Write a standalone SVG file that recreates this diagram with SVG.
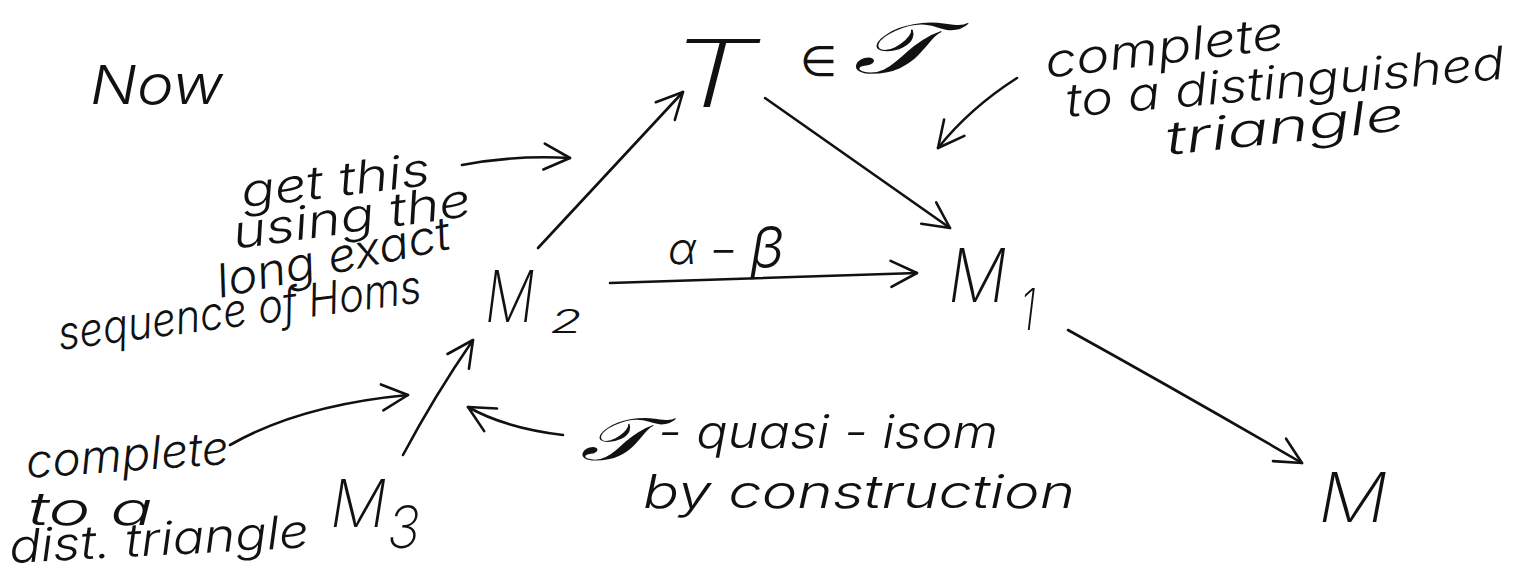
<svg xmlns="http://www.w3.org/2000/svg" width="1513" height="577" viewBox="0 0 1513 577">
  <style>
    .hand { font-family: "Inter", "Open Sans", "Lato", "DejaVu Sans", sans-serif; font-weight: 300; font-style: italic; fill: #111; }
    .big { font-weight: 200; }
    .note { font-size: 46px; }
    .sym { font-family: "DejaVu Serif", "Liberation Serif", serif; font-style: italic; fill: #111; }
    .edge { fill: none; stroke: #111; stroke-width: 2.6; stroke-linecap: round; stroke-linejoin: round; }
  </style>
  <defs>
    <!-- open, hand-drawn style arrowhead -->
    <marker id="head" viewBox="-32 -16 36 32" refX="0" refY="0" markerWidth="36" markerHeight="32" markerUnits="userSpaceOnUse" orient="auto">
      <path d="M-26,-13 L0,0 L-26,13" fill="none" stroke="#111" stroke-width="2.6" stroke-linecap="round" stroke-linejoin="round"/>
    </marker>
  </defs>

  <rect width="1513" height="577" fill="#fff"/>

  <!-- heading -->
  <text class="hand" x="90" y="104" font-size="54" textLength="133" lengthAdjust="spacingAndGlyphs">Now</text>

  <!-- nodes -->
  <g id="node-T">
    <text class="hand big" x="668" y="107" font-size="94" font-weight="100" textLength="90" lengthAdjust="spacingAndGlyphs">T</text>
    <text class="hand" x="800" y="76" font-size="42" textLength="37" lengthAdjust="spacingAndGlyphs">∈</text>
    <text class="sym" x="853" y="73" font-size="72" textLength="84" lengthAdjust="spacingAndGlyphs">𝒯</text>
  </g>
  <g id="node-M2">
    <text class="hand big" x="485" y="322" font-size="72" textLength="50" lengthAdjust="spacingAndGlyphs">M</text>
    <text class="hand" x="550" y="333" font-size="32" textLength="32" lengthAdjust="spacingAndGlyphs">2</text>
  </g>
  <g id="node-M1">
    <text class="hand big" x="948" y="302" font-size="74" textLength="59" lengthAdjust="spacingAndGlyphs">M</text>
    <text class="hand big" x="1020" y="330" font-size="58" textLength="16" lengthAdjust="spacingAndGlyphs">1</text>
  </g>
  <g id="node-M3">
    <text class="hand big" x="330" y="527" font-size="66" textLength="57" lengthAdjust="spacingAndGlyphs">M</text>
    <text class="hand big" x="387" y="548" font-size="58" textLength="33" lengthAdjust="spacingAndGlyphs">3</text>
  </g>
  <g id="node-M">
    <text class="hand big" x="1318" y="522" font-size="68" textLength="70" lengthAdjust="spacingAndGlyphs">M</text>
  </g>

  <!-- connectors -->
  <g id="connectors">
    <path class="edge" d="M538,248 L683,92" marker-end="url(#head)"/>
    <path class="edge" d="M765,98 Q860,165 950,228" marker-end="url(#head)"/>
    <path class="edge" d="M610,283 L917,273" marker-end="url(#head)"/>
    <path class="edge" d="M1068,330 Q1180,392 1302,463" marker-end="url(#head)"/>
    <path class="edge" d="M403,455 Q435,395 473,340" marker-end="url(#head)"/>
    <path class="edge" d="M563,435 Q505,428 468,407" marker-end="url(#head)"/>
    <path class="edge" d="M462,165 Q515,155 570,158" marker-end="url(#head)"/>
    <path class="edge" d="M230,445 Q300,405 408,395" marker-end="url(#head)"/>
    <path class="edge" d="M1017,78 Q970,108 938,148" marker-end="url(#head)"/>
  </g>

  <!-- edge label -->
  <text class="hand" x="668" y="264" font-size="44">α − <tspan font-size="58" dy="4">β</tspan></text>

  <!-- remarks -->
  <g id="note-top-right" class="hand note">
    <text x="1047" y="78" textLength="240" lengthAdjust="spacingAndGlyphs" transform="rotate(-7 1047 78)">complete</text>
    <text x="1067" y="117" textLength="440" lengthAdjust="spacingAndGlyphs" transform="rotate(-5 1067 117)">to a distinguished</text>
    <text x="1167" y="155" textLength="240" lengthAdjust="spacingAndGlyphs" transform="rotate(-6 1167 155)">triangle</text>
  </g>
  <g id="note-left" class="hand note">
    <text x="243" y="208" textLength="190" lengthAdjust="spacingAndGlyphs" transform="rotate(-7 243 208)">get this</text>
    <text x="235" y="249" textLength="240" lengthAdjust="spacingAndGlyphs" transform="rotate(-8 235 249)">using the</text>
    <text x="220" y="298" textLength="238" lengthAdjust="spacingAndGlyphs" transform="rotate(-12 220 298)">long exact</text>
    <text x="60" y="350" textLength="366" lengthAdjust="spacingAndGlyphs" transform="rotate(-7.5 60 350)">sequence of Homs</text>
  </g>
  <g id="note-bottom-left" class="hand note">
    <text x="27" y="478" textLength="203" lengthAdjust="spacingAndGlyphs" transform="rotate(-4 27 478)">complete</text>
    <text x="28" y="525" textLength="125" lengthAdjust="spacingAndGlyphs">to a</text>
    <text x="10" y="563" textLength="300" lengthAdjust="spacingAndGlyphs" transform="rotate(-3 10 563)">dist. triangle</text>
  </g>
  <g id="note-bottom" class="hand note">
    <text class="sym" x="580" y="460" font-size="60" textLength="70" lengthAdjust="spacingAndGlyphs">𝒯</text>
    <text x="658" y="448" textLength="340" lengthAdjust="spacingAndGlyphs">- quasi - isom</text>
    <text x="643" y="508" textLength="432" lengthAdjust="spacingAndGlyphs">by construction</text>
  </g>
</svg>
